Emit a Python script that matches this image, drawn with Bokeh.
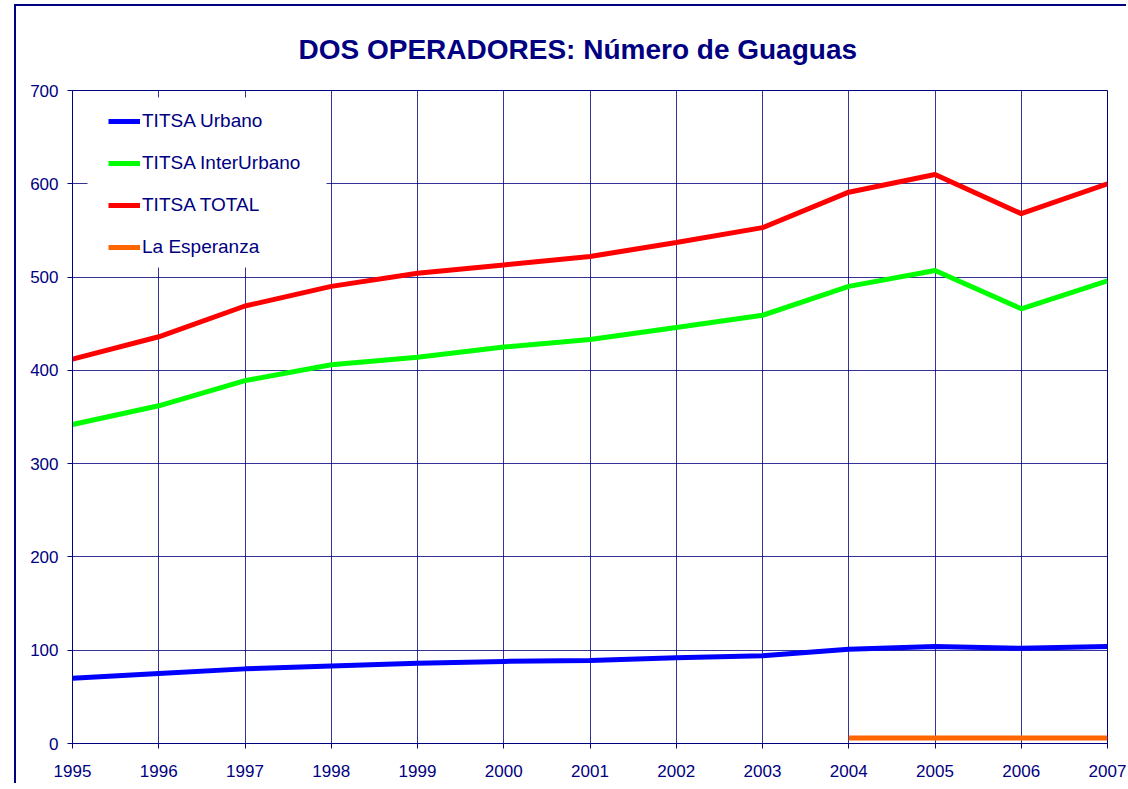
from bokeh.plotting import figure
from bokeh.models import Legend, LegendItem, FixedTicker, BoxAnnotation
from bokeh.embed import file_html
from bokeh.resources import INLINE

years = [1995, 1996, 1997, 1998, 1999, 2000, 2001, 2002, 2003, 2004, 2005, 2006, 2007]
titsa_urbano = [70, 75, 80, 83, 86, 88, 89, 92, 94, 101, 104, 102, 104]
titsa_interurbano = [342, 362, 389, 406, 414, 425, 433, 446, 459, 490, 507, 466, 496]
titsa_total = [412, 436, 469, 490, 504, 513, 522, 537, 553, 591, 610, 568, 600]
esperanza_years = [2004, 2005, 2006, 2007]
la_esperanza = [6, 6, 6, 6]
y_ticks = [0, 100, 200, 300, 400, 500, 600, 700]

NAVY = "#000080"
FONT = "Liberation Sans"

p = figure(width=1112, height=779, output_backend="svg", toolbar_location=None,
           x_range=(1995, 2007), y_range=(0, 700),
           min_border_left=56, min_border_right=21, min_border_top=84, min_border_bottom=42,
           title="DOS OPERADORES: Número de Guaguas")
p.styles = {"border-left": "2px solid #000080", "border-top": "2px solid #000080",
            "margin-left": "14px", "margin-top": "4px"}

p.title.text_font = FONT
p.title.text_font_size = "28px"
p.title.text_font_style = "bold"
p.title.text_color = NAVY
p.title.align = "left"
p.title.offset = 226
p.title.standoff = 51

p.outline_line_color = NAVY
p.outline_line_width = 1
p.background_fill_color = "white"
p.border_fill_color = "white"

for ax in (p.xaxis[0], p.yaxis[0]):
    ax.axis_line_color = NAVY
    ax.major_tick_line_color = NAVY
    ax.major_tick_out = 5
    ax.major_tick_in = 0
    ax.minor_tick_line_color = None
    ax.major_label_text_color = NAVY
    ax.major_label_text_font = FONT
    ax.major_label_text_font_size = "17px"

p.xaxis.ticker = FixedTicker(ticks=years)
p.yaxis.ticker = FixedTicker(ticks=y_ticks)
p.xaxis.major_label_standoff = 16
p.yaxis.major_label_standoff = 9

p.xgrid.ticker = FixedTicker(ticks=years)
p.ygrid.ticker = FixedTicker(ticks=y_ticks)
for g in (p.xgrid[0], p.ygrid[0]):
    g.grid_line_color = NAVY
    g.grid_line_alpha = 0.8
    g.grid_line_width = 1

# white legend panel behind entries (canvas pixels)
legend_bg = BoxAnnotation(left=69, right=308, top=89, bottom=259,
                          left_units="canvas", right_units="canvas",
                          top_units="canvas", bottom_units="canvas",
                          fill_color="white", fill_alpha=1, line_color=None,
                          level="underlay")
p.add_layout(legend_bg)

r1 = p.line(years, titsa_urbano, line_color="#0000FF", line_width=5)
r2 = p.line(years, titsa_interurbano, line_color="#00FF00", line_width=5)
r3 = p.line(years, titsa_total, line_color="#FF0000", line_width=5)
r4 = p.line(esperanza_years, la_esperanza, line_color="#FF6600", line_width=5)

legend = Legend(items=[
    LegendItem(label="TITSA Urbano", renderers=[r1]),
    LegendItem(label="TITSA InterUrbano", renderers=[r2]),
    LegendItem(label="TITSA TOTAL", renderers=[r3]),
    LegendItem(label="La Esperanza", renderers=[r4]),
], location=(36, 485))
legend.label_text_font = FONT
legend.label_text_font_size = "19px"
legend.label_text_color = NAVY
legend.glyph_width = 32
legend.glyph_height = 16
legend.label_height = 16
legend.label_width = 180
legend.label_standoff = 2
legend.spacing = 20
legend.padding = 20
legend.margin = 0
legend.border_line_color = None
legend.background_fill_color = "white"
legend.background_fill_alpha = 1.0
p.add_layout(legend)

open("out.html", "w").write(file_html(p, INLINE))
